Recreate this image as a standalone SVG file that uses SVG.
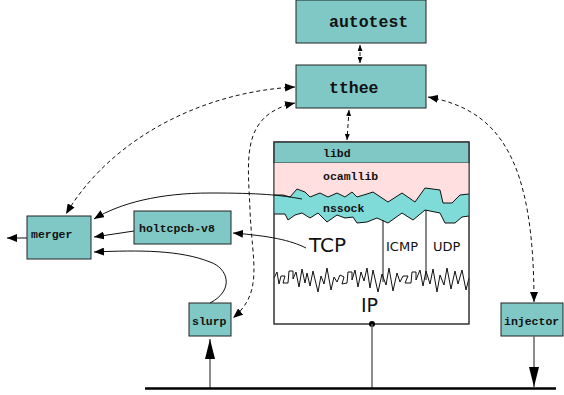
<svg xmlns="http://www.w3.org/2000/svg" width="564" height="395" viewBox="0 0 564 395">
<style>
.box{fill:#80c8c5;stroke:#222;stroke-width:1}
.lbl{font-family:"Liberation Mono","DejaVu Sans Mono",monospace;font-weight:bold;font-size:11.5px;fill:#111}
.big{font-size:16.5px}
.sans{font-family:"DejaVu Sans","Liberation Sans",sans-serif;fill:#111}
.dash{fill:none;stroke:#111;stroke-width:1;stroke-dasharray:4,3}
.sol{fill:none;stroke:#111;stroke-width:1}
.gray{fill:none;stroke:#666;stroke-width:1.5}
</style>
<defs>
<marker id="a" viewBox="0 0 10 8" refX="10" refY="4" markerWidth="10" markerHeight="8" markerUnits="userSpaceOnUse" orient="auto-start-reverse"><path d="M0,0 L10,4 L0,8 z" fill="#000"/></marker>
<marker id="s" viewBox="0 0 6 5" refX="6" refY="2.5" markerWidth="6" markerHeight="5" markerUnits="userSpaceOnUse" orient="auto-start-reverse"><path d="M0,0 L6,2.5 L0,5 z" fill="#000"/></marker>
<marker id="A" viewBox="0 0 20 10" refX="20" refY="5" markerWidth="20" markerHeight="10" markerUnits="userSpaceOnUse" orient="auto"><path d="M0,0 L20,5 L0,10 z" fill="#000"/></marker>
</defs>
<g id="stack">
<rect x="274" y="142" width="195" height="182" fill="#fff" stroke="#333" stroke-width="1"/>
<rect x="274" y="142" width="195" height="21" fill="#80c8c5" stroke="#333" stroke-width="1"/>
<polygon fill="#ffdfe0" points="274,163 469,163 469,194 460,195 452,203 443,203 440,190 425,188 415,202 402,193 388,202 373,192 367,194 357,197 352,192 345,197 337,193 328,197 320,193 310,197 305,192 297,189 290,197 283,195 274,195"/>
<polygon fill="#7fdbd8" points="274,195 283,195 290,197 297,189 305,192 310,197 320,193 328,197 337,193 345,197 352,192 357,197 367,194 373,192 388,202 402,193 415,202 425,188 440,190 443,203 452,203 460,195 469,194 469,216 462,217 455,223 445,223 440,213 425,210 413,220 402,213 388,223 377,218 367,222 357,223 353,217 345,218 337,215 327,222 318,213 310,218 302,213 295,215 288,220 285,214 274,214"/>
<polyline class="sol" points="274,195 283,195 290,197 297,189 305,192 310,197 320,193 328,197 337,193 345,197 352,192 357,197 367,194 373,192 388,202 402,193 415,202 425,188 440,190 443,203 452,203 460,195 469,194"/>
<polyline class="sol" points="274,214 285,214 288,220 295,215 302,213 310,218 318,213 327,222 337,215 345,218 353,217 357,223 367,222 377,218 388,223 402,213 413,220 425,210 440,213 445,223 455,223 462,217 469,216"/>
<line class="sol" x1="383" y1="220" x2="383" y2="282"/>
<line class="sol" x1="426" y1="210" x2="426" y2="280"/>
<polyline class="sol" stroke-width="0.9" points="274,278 277,272 279,284 281,276 285,276 283,283 288,283 289,271 293,271 293,279 296,272 299,287 302,269 305,283 307,273 310,286 313,271 318,292 321,276 324,284 327,268 331,290 334,277 337,282 340,275 344,277 342,284 347,283 348,272 352,272 352,280 355,270 358,287 361,272 364,281 367,268 370,288 373,270 378,292 382,274 386,285 389,268 393,291 397,273 400,282 403,276 408,276 405,283 411,283 412,272 416,272 416,280 420,270 423,286 426,271 430,284 433,269 437,292 440,275 444,285 447,268 451,289 455,271 458,284 462,270 466,290 469,278"/>
<rect x="274" y="142" width="195" height="182" fill="none" stroke="#333" stroke-width="1"/>
<text class="lbl" x="323" y="157">libd</text>
<text class="lbl" x="323" y="180">ocamllib</text>
<text class="lbl" x="323" y="212">nssock</text>
<text class="sans" x="309" y="252" font-size="20">TCP</text>
<text class="sans" x="386" y="251" font-size="13">ICMP</text>
<text class="sans" x="433" y="251" font-size="13">UDP</text>
<text class="sans" x="361" y="312" font-size="19">IP</text>
<circle cx="372" cy="324" r="3" fill="#000"/>
</g>
<g id="autotest"><rect class="box" x="296" y="0" width="130" height="43"/><text class="lbl big" x="329" y="27">autotest</text></g>
<g id="tthee"><rect class="box" x="296" y="65" width="130" height="43"/><text class="lbl big" x="329" y="93">tthee</text></g>
<g id="merger"><rect class="box" x="27" y="216" width="64" height="43"/><text class="lbl" x="31" y="238">merger</text></g>
<g id="holtcpcb-v8"><rect class="box" x="134" y="211" width="97" height="33"/><text class="lbl" x="139" y="232">holtcpcb-v8</text></g>
<g id="slurp"><rect class="box" x="189" y="303" width="42" height="33"/><text class="lbl" x="192" y="325">slurp</text></g>
<g id="injector"><rect class="box" x="501" y="303" width="62" height="33"/><text class="lbl" x="504" y="325">injector</text></g>
<g id="connectors">
<path class="dash" d="M360,45 L360,63" stroke-dasharray="3,2" marker-start="url(#s)" marker-end="url(#s)"/>
<path class="dash" d="M349,110 L347,140" marker-start="url(#s)" marker-end="url(#s)"/>
<path class="dash" d="M295,87 C200,92 110,140 66,214" marker-start="url(#a)" marker-end="url(#a)"/>
<path class="dash" d="M295,103 C240,115 248,160 250,210 C252,262 264,292 233,318" marker-start="url(#a)" marker-end="url(#a)"/>
<path class="dash" d="M428,97 C500,110 534,160 534,302" marker-start="url(#a)" marker-end="url(#a)"/>
<path class="sol" d="M302,199 C280,195 260,193 210,193 C160,193 120,203 94,219" marker-end="url(#a)"/>
<path class="sol" d="M306,248 C290,240 270,236 233,233" marker-end="url(#a)"/>
<path class="sol" d="M134,231 L94,237" marker-end="url(#a)"/>
<path class="sol" d="M210,303 C235,290 228,268 210,262 C180,250 140,250 94,252" marker-end="url(#a)"/>
<path class="sol" d="M27,238 L7,238" marker-end="url(#a)"/>
<line class="gray" x1="372" y1="324" x2="372" y2="388"/>
<path class="gray" d="M210,388 L210,339" marker-end="url(#A)"/>
<path class="gray" d="M534,336 L534,387" marker-end="url(#A)"/>
<line x1="145" y1="388.5" x2="556" y2="388.5" stroke="#000" stroke-width="2.5"/>
</g>
</svg>
